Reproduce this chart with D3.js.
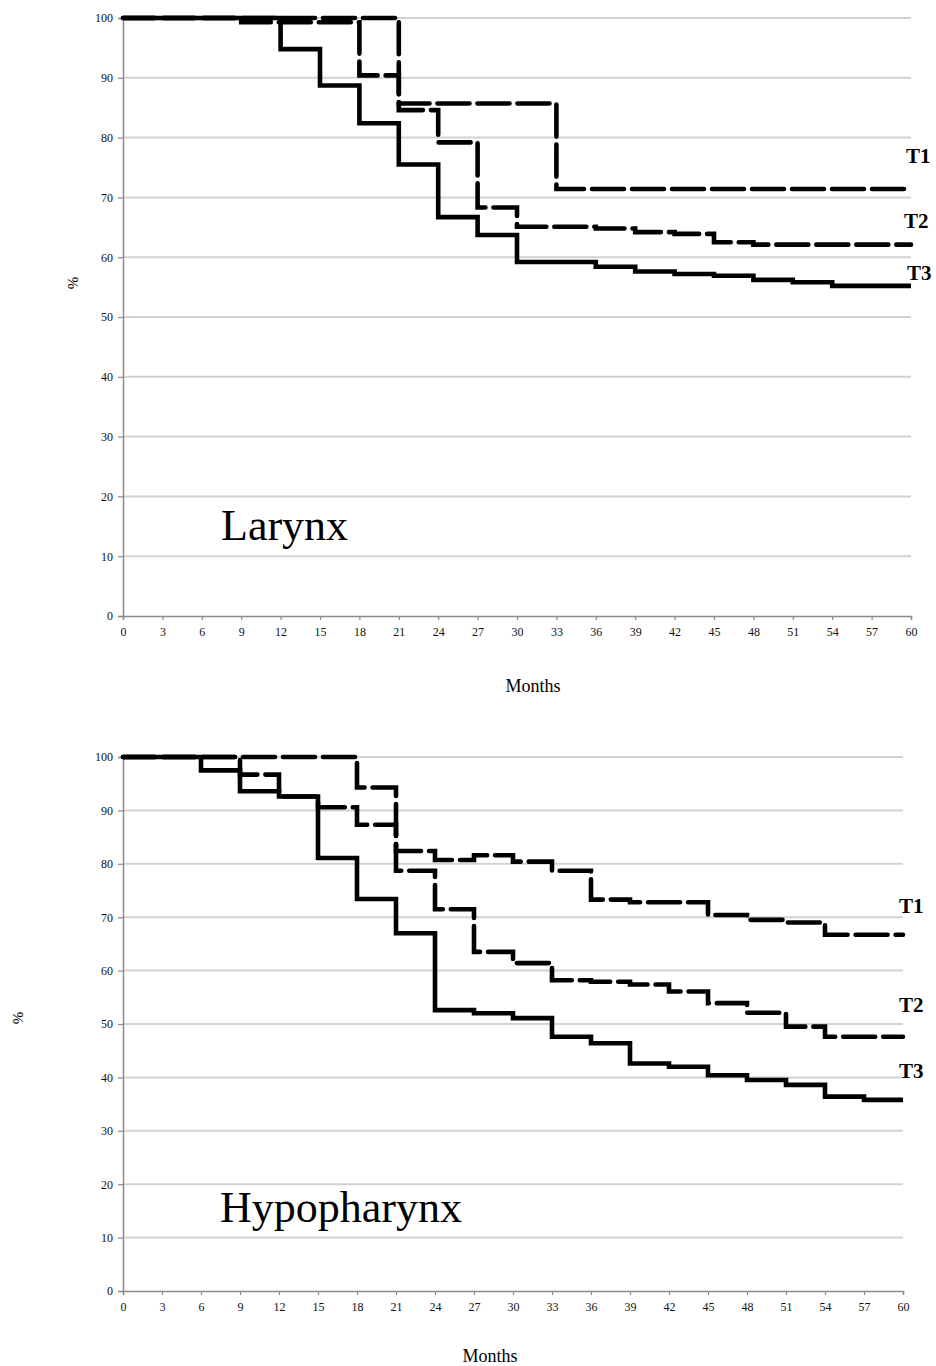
<!DOCTYPE html>
<html>
<head>
<meta charset="utf-8">
<script src="https://cdn.jsdelivr.net/npm/d3@7"></script>
<style>
  html, body { margin: 0; padding: 0; background: #fff; }
  svg { display: block; }
</style>
</head>
<body>
<svg id="chart" width="936" height="1366"></svg>
<script>
// ---- Data ----
const monthTicks = d3.range(0, 61, 3);
const percentTicks = d3.range(0, 101, 10);
const seriesNames = ["T1", "T2", "T3"];

// Larynx
const larynxT1Months = [0, 21, 33, 60];
const larynxT1Values = [100, 85.7, 71.4, 71.4];
const larynxT2Months = [0, 9, 18, 21, 24, 27, 30, 36, 39, 42, 45, 48, 60];
const larynxT2Values = [100, 99.3, 90.4, 84.6, 79.2, 68.3, 65.1, 64.8, 64.2, 63.9, 62.5, 62.1, 62.1];
const larynxT3Months = [0, 12, 15, 18, 21, 24, 27, 30, 36, 39, 42, 45, 48, 51, 54, 60];
const larynxT3Values = [100, 94.8, 88.7, 82.4, 75.5, 66.7, 63.7, 59.2, 58.4, 57.6, 57.2, 56.9, 56.2, 55.8, 55.2, 55.2];

// Hypopharynx
const hypoT1Months = [0, 18, 21, 24, 27, 30, 33, 36, 39, 45, 48, 51, 54, 60];
const hypoT1Values = [100, 94.3, 82.4, 80.7, 81.6, 80.4, 78.7, 73.3, 72.8, 70.4, 69.5, 69.0, 66.7, 66.7];
const hypoT2Months = [0, 9, 12, 15, 18, 21, 24, 27, 30, 33, 36, 39, 42, 45, 48, 51, 54, 60];
const hypoT2Values = [100, 96.7, 92.6, 90.6, 87.3, 78.7, 71.5, 63.5, 61.4, 58.2, 57.9, 57.4, 56.1, 53.9, 52.1, 49.5, 47.6, 47.6];
const hypoT3Months = [0, 6, 9, 12, 15, 18, 21, 24, 27, 30, 33, 36, 39, 42, 45, 48, 51, 54, 57, 60];
const hypoT3Values = [100, 97.5, 93.6, 92.6, 81.1, 73.4, 67.0, 52.6, 52.0, 51.1, 47.6, 46.4, 42.6, 42.0, 40.4, 39.5, 38.6, 36.4, 35.8, 35.8];

// ---- Layout ----
const panels = [
  {
    title: "Larynx",
    x0: 123, x1: 911, yTop: 18, yBot: 616,
    series: [
      { m: larynxT1Months, v: larynxT1Values, dash: true },
      { m: larynxT2Months, v: larynxT2Values, dash: true },
      { m: larynxT3Months, v: larynxT3Values, dash: false }
    ],
    labelPos: [[906, 163], [904, 228], [907, 280]],
    titlePos: [221, 540],
    monthsPos: [533, 692],
    pctPos: [73, 283]
  },
  {
    title: "Hypopharynx",
    x0: 123, x1: 903, yTop: 757, yBot: 1291,
    series: [
      { m: hypoT1Months, v: hypoT1Values, dash: true },
      { m: hypoT2Months, v: hypoT2Values, dash: true },
      { m: hypoT3Months, v: hypoT3Values, dash: false }
    ],
    labelPos: [[899, 913], [899, 1012], [899, 1078]],
    titlePos: [220, 1222],
    monthsPos: [490, 1362],
    pctPos: [18, 1018]
  }
];

const svg = d3.select("#chart");
const serif = "'Liberation Serif', 'Times New Roman', serif";

panels.forEach(p => {
  const x = d3.scaleLinear().domain([0, 60]).range([p.x0, p.x1]);
  const y = d3.scaleLinear().domain([0, 100]).range([p.yBot, p.yTop]);
  const g = svg.append("g");

  // gridlines
  g.append("g").selectAll("line")
    .data(percentTicks.filter(d => d > 0))
    .join("line")
    .attr("x1", p.x0).attr("x2", p.x1)
    .attr("y1", d => y(d)).attr("y2", d => y(d))
    .attr("stroke", "#d2d2d2").attr("stroke-width", 2);

  // y axis
  const yAxis = g.append("g")
    .attr("transform", `translate(${p.x0},0)`)
    .call(d3.axisLeft(y).tickValues(percentTicks).tickSize(5).tickPadding(5));
  yAxis.attr("font-family", serif);
  yAxis.select(".domain").attr("stroke", "#8a8a8a").attr("stroke-width", 1.5);
  yAxis.selectAll(".tick line").attr("stroke", "#8a8a8a").attr("stroke-width", 1.2);
  yAxis.selectAll(".tick text").attr("font-family", serif).attr("font-size", 12).attr("fill", "#111");

  // x axis
  const xAxis = g.append("g")
    .attr("transform", `translate(0,${p.yBot})`)
    .call(d3.axisBottom(x).tickValues(monthTicks).tickSize(4).tickPadding(7));
  xAxis.attr("font-family", serif);
  xAxis.select(".domain").attr("stroke", "#8a8a8a").attr("stroke-width", 1.5);
  xAxis.selectAll(".tick line").attr("stroke", "#8a8a8a").attr("stroke-width", 1.2);
  xAxis.selectAll(".tick text").attr("font-family", serif).attr("font-size", 12).attr("fill", "#111");

  // survival step lines
  const line = d3.line()
    .x(d => x(d[0]))
    .y(d => y(d[1]))
    .curve(d3.curveStepAfter);

  p.series.forEach(s => {
    const pts = s.m.map((m, i) => [m, s.v[i]]);
    g.append("path")
      .attr("d", line(pts))
      .attr("fill", "none")
      .attr("stroke", "#000")
      .attr("stroke-width", 4.6)
      .attr("stroke-linejoin", "miter")
      .attr("stroke-linecap", s.dash ? "round" : "butt")
      .attr("stroke-dasharray", s.dash ? "32,8" : null);
  });

  // series labels
  seriesNames.forEach((name, i) => {
    g.append("text")
      .attr("x", p.labelPos[i][0]).attr("y", p.labelPos[i][1])
      .attr("font-family", serif).attr("font-weight", "bold")
      .attr("font-size", 21).attr("fill", "#000")
      .text(name);
  });

  // panel title
  g.append("text")
    .attr("x", p.titlePos[0]).attr("y", p.titlePos[1])
    .attr("font-family", serif).attr("font-size", 44).attr("fill", "#000")
    .text(p.title);

  // axis titles
  g.append("text")
    .attr("x", p.monthsPos[0]).attr("y", p.monthsPos[1])
    .attr("text-anchor", "middle")
    .attr("font-family", serif).attr("font-size", 18).attr("fill", "#000")
    .text("Months");

  g.append("text")
    .attr("transform", `translate(${p.pctPos[0]},${p.pctPos[1]}) rotate(-90)`)
    .attr("text-anchor", "middle").attr("dominant-baseline", "central")
    .attr("font-family", serif).attr("font-size", 15).attr("fill", "#000")
    .text("%");
});
</script>
</body>
</html>
